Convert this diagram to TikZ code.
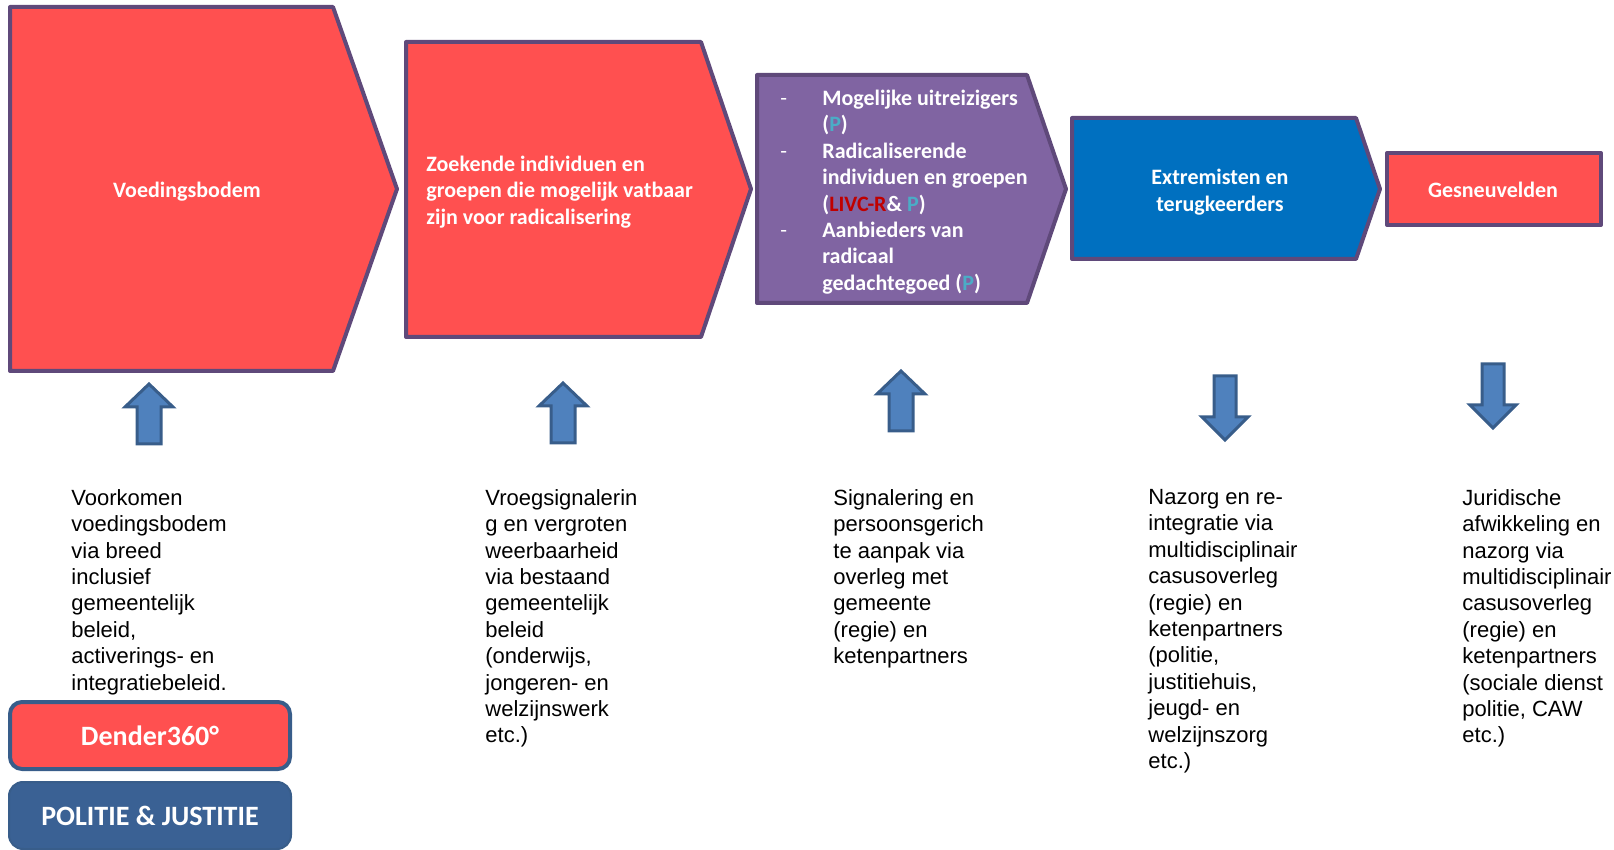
\documentclass[tikz,border=0pt]{standalone}
\usepackage{fontspec}
\usepackage{xcolor}
\setmainfont{Liberation Sans}
\newfontfamily\calibri{Carlito}
\usepackage{tikz}

\definecolor{redfill}{HTML}{FF5050}
\definecolor{edgepurple}{HTML}{5F497A}
\definecolor{purplefill}{HTML}{8064A2}
\definecolor{bluefill}{HTML}{0070C0}
\definecolor{arrowfill}{HTML}{4F81BD}
\definecolor{arrowedge}{HTML}{385D8A}
\definecolor{politiefill}{HTML}{3A6194}
\definecolor{pteal}{HTML}{4BACC6}
\definecolor{livcred}{HTML}{C00000}

\newcommand{\streep}{\makebox[21pt][l]{\mdseries -}}
\newcommand{\pletter}{\textcolor{pteal}{P}}

\begin{document}
\begin{tikzpicture}[x=0.5pt,y=-0.5pt,
  chevron/.style={draw=edgepurple,line width=2pt,line join=round},
  blockarrow/.style={fill=arrowfill,draw=arrowedge,line width=1.5pt},
  boxtext/.style={text=white,inner sep=0,font=\calibri\bfseries\fontsize{11}{13.2}\selectfont},
  bigtext/.style={text=white,inner sep=0,font=\calibri\bfseries\fontsize{14}{16}\selectfont},
  bodytext/.style={anchor=north west,align=left,inner sep=0,font=\fontsize{11}{13.2}\selectfont}]
\useasboundingbox (0,0) rectangle (1614,850);

% chevrons
\filldraw[chevron,fill=redfill](10,7)--(333,7)--(397,189)--(333,371)--(10,371)--cycle;
\filldraw[chevron,fill=redfill](406,42)--(701,42)--(751,189)--(701,337)--(406,337)--cycle;
\filldraw[chevron,fill=purplefill](757,75)--(1027,75)--(1066,189)--(1027,303)--(757,303)--cycle;
\filldraw[chevron,fill=bluefill](1072,118)--(1356,118)--(1380,189)--(1356,259)--(1072,259)--cycle;
\filldraw[chevron,fill=redfill](1387,153) rectangle (1601,225);

\node[boxtext] (voeding) at (187,192) {Voedingsbodem};
\node[boxtext,anchor=west,align=left] (zoekend) at (426,192)
  {Zoekende individuen en\\groepen die mogelijk vatbaar\\zijn voor radicalisering};
\node[boxtext,anchor=west,align=left] (radicaal) at (780,192)
  {\streep Mogelijke uitreizigers\\
   \hspace*{21pt}(\pletter)\\
   \streep Radicaliserende\\
   \hspace*{21pt}individuen en groepen\\
   \hspace*{21pt}(\textcolor{livcred}{LIVC-R}\& \pletter)\\
   \streep Aanbieders van\\
   \hspace*{21pt}radicaal\\
   \hspace*{21pt}gedachtegoed (\pletter)};
\node[boxtext,align=center] (extremist) at (1220,192) {Extremisten en\\terugkeerders};
\node[boxtext] (gesneuveld) at (1493,190) {Gesneuvelden};

% block arrows
\filldraw[blockarrow,shift={(149,384)}](0,0)--(24,23)--(12,23)--(12,60)--(-12,60)--(-12,23)--(-24,23)--cycle;
\filldraw[blockarrow,shift={(563,383)}](0,0)--(24,23)--(12,23)--(12,60)--(-12,60)--(-12,23)--(-24,23)--cycle;
\filldraw[blockarrow,shift={(901,371)}](0,0)--(24,23)--(12,23)--(12,60)--(-12,60)--(-12,23)--(-24,23)--cycle;
\filldraw[blockarrow,shift={(1225,376)}](-11,0)--(11,0)--(11,41)--(23,41)--(0,64)--(-23,41)--(-11,41)--cycle;
\filldraw[blockarrow,shift={(1493,364)}](-11,0)--(11,0)--(11,41)--(23,41)--(0,64)--(-23,41)--(-11,41)--cycle;

% texts below
\node[bodytext] (voorkomen) at (71,489)
  {Voorkomen\\voedingsbodem\\via breed\\inclusief\\gemeentelijk\\beleid,\\activerings- en\\integratiebeleid.};
\node[bodytext] (vroeg) at (485,489)
  {Vroegsignalerin\\g en vergroten\\weerbaarheid\\via bestaand\\gemeentelijk\\beleid\\(onderwijs,\\jongeren- en\\welzijnswerk\\etc.)};
\node[bodytext] (signaal) at (833,489)
  {Signalering en\\persoonsgerich\\te aanpak via\\overleg met\\gemeente\\(regie) en\\ketenpartners};
\node[bodytext] (nazorg) at (1148,489)
  {Nazorg en re-\\integratie via\\multidisciplinair\\casusoverleg\\(regie) en\\ketenpartners\\(politie,\\justitiehuis,\\jeugd- en\\welzijnszorg\\etc.)};
\node[bodytext] (juridisch) at (1462,489)
  {Juridische\\afwikkeling en\\nazorg via\\multidisciplinair\\casusoverleg\\(regie) en\\ketenpartners\\(sociale dienst\\politie, CAW\\etc.)};

% partner boxes
\filldraw[draw=arrowedge,fill=redfill,line width=2pt,rounded corners=6pt](10,702) rectangle (290,769);
\node[bigtext] (dender) at (150,736) {Dender360°};
\filldraw[draw=arrowedge,fill=politiefill,line width=1pt,rounded corners=7pt](9,782) rectangle (291,849);
\node[bigtext] (politie) at (150,816) {POLITIE \& JUSTITIE};

\end{tikzpicture}
\end{document}
